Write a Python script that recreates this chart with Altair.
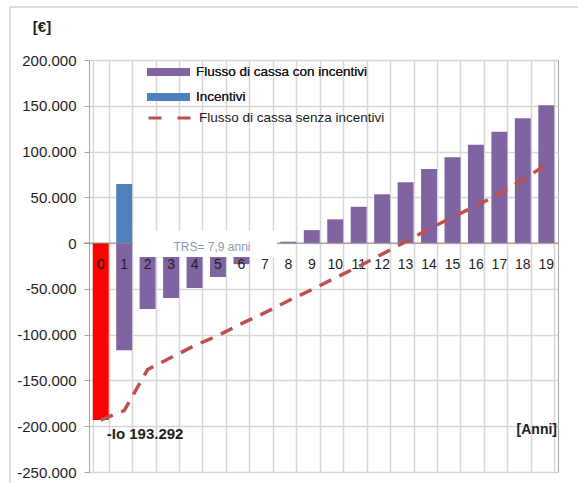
import altair as alt
import pandas as pd

# ---------------- data ----------------
anni = list(range(20))
investimento = -193292          # year 0 (red bar)
incentivi_anno = [1]
incentivi_val = [64500]
con_incentivi = [None, -117000, -72000, -60000, -49000, -37000, -23000, -11000,
                 1500, 14200, 26000, 39700, 53300, 66400, 81000, 93800,
                 107500, 121500, 136400, 150700]
senza_incentivi = [-193292, -183000, -138000, -125000, -112000, -101000, -88000,
                   -76000, -63000, -50800, -38000, -25500, -12000, 1500, 15600,
                   28200, 40800, 53800, 69000, 86000]
y_ticks = [-250000, -200000, -150000, -100000, -50000, 0, 50000, 100000, 150000, 200000]

S_CON = "Flusso di cassa con incentivi"
S_INC = "Incentivi"
S_SENZA = "Flusso di cassa senza incentivi"

PURPLE = "#8064A2"
BLUE = "#4F81BD"
RED = "#FF0000"
DASHRED = "#C0504D"
GRID = "#d6d6d6"
FONT = "Liberation Sans"

W, H = 469, 412

df_con = pd.DataFrame({"anno": anni, "valore": con_incentivi, "serie": S_CON}).dropna()
df_inc = pd.DataFrame({"anno": incentivi_anno, "valore": incentivi_val, "serie": S_INC})
df_io = pd.DataFrame({"anno": [0], "valore": [investimento]})
df_senza = pd.DataFrame({"anno": anni, "valore": senza_incentivi, "serie": S_SENZA})
df_lab = pd.DataFrame({"anno": anni, "valore": [0] * len(anni), "txt": [str(a) for a in anni]})

x_enc = alt.X(
    "anno:O",
    scale=alt.Scale(paddingInner=0.32, paddingOuter=0.16),
    axis=alt.Axis(labels=False, ticks=False, domain=False, grid=True, tickBand="extent",
                  gridColor=GRID, gridWidth=1.5, title=None),
)
y_enc = alt.Y(
    "valore:Q",
    scale=alt.Scale(domain=[-250000, 200000], nice=False),
    axis=alt.Axis(values=y_ticks, title=None, grid=True, gridColor=GRID, gridWidth=1.5,
                  domain=True, domainColor="#a6a6a6", tickColor="#a6a6a6", tickSize=5,
                  labelPadding=8, labelFont=FONT, labelFontSize=15, labelColor="#1e1e1e",
                  labelExpr="(datum.value < 0 ? '-' : '') + replace(format(abs(datum.value), ','), ',', '.')"),
)

fill_scale = alt.Scale(domain=[S_CON, S_INC], range=[PURPLE, BLUE])
fill_legend = alt.Legend(
    orient="none", legendX=58, legendY=2, title=None, padding=0,
    symbolType="M-1,-0.19L1,-0.19L1,0.19L-1,0.19Z", symbolSize=1849,
    symbolStrokeWidth=0, clipHeight=20, rowPadding=5, labelOffset=6, labelLimit=400,
    labelFont=FONT, labelFontSize=13.5, labelColor="#1a1a1a",
)

bars_con = alt.Chart(df_con).mark_bar().encode(
    x=x_enc, y=y_enc, fill=alt.Fill("serie:N", scale=fill_scale, legend=fill_legend)
)
bars_inc = alt.Chart(df_inc).mark_bar().encode(
    x="anno:O", y="valore:Q", fill=alt.Fill("serie:N", scale=fill_scale, legend=fill_legend)
)
bar_io = alt.Chart(df_io).mark_bar(color=RED).encode(x="anno:O", y="valore:Q")

zero_rule = alt.Chart(df_io).mark_rule(color="#8a8a8a", strokeWidth=1).encode(
    y=alt.datum(0), x=alt.value(-5), x2=alt.value(W)
)

box = alt.Chart(df_io).mark_rect(fill="white").encode(
    x=alt.value(44), x2=alt.value(188), y=alt.value(171), y2=alt.value(197)
)
trs = alt.Chart(df_io).mark_text(
    text="TRS=  7,9 anni", font=FONT, fontSize=12, color="#8c9bb0", align="center", baseline="middle"
).encode(x=alt.value(123), y=alt.value(187))

cat_labels = alt.Chart(df_lab).mark_text(
    font=FONT, fontSize=14, color="#1e1e1e", dy=22, baseline="middle"
).encode(x="anno:O", y="valore:Q", text="txt:N")

line = alt.Chart(df_senza).mark_line(strokeWidth=3.5, strokeDash=[13, 9]).encode(
    x="anno:O", y="valore:Q",
    stroke=alt.Stroke("serie:N", scale=alt.Scale(domain=[S_SENZA], range=[DASHRED]),
                      legend=alt.Legend(orient="none", legendX=58, legendY=48, title=None, padding=0,
                                        symbolType="stroke", symbolSize=1849, symbolStrokeWidth=3,
                                        symbolDash=[13, 16], clipHeight=20, labelOffset=6, labelLimit=400,
                                        labelFont=FONT, labelFontSize=13.5, labelColor="#1a1a1a")),
)

io_label = alt.Chart(df_io).mark_text(
    text="-Io 193.292", font=FONT, fontSize=15, fontWeight="bold", color="#1e1e1e",
    align="left", baseline="middle", dx=6, dy=14
).encode(x="anno:O", y="valore:Q")

anni_label = alt.Chart(df_io).mark_text(
    text="[Anni]", font=FONT, fontSize=14, fontWeight="bold", color="#1e1e1e",
    align="right", baseline="middle"
).encode(x=alt.value(W - 1), y=alt.value(370))

euro_label = alt.Chart(df_io).mark_text(
    text="[€]", font=FONT, fontSize=15, fontWeight="bold", color="#1e1e1e",
    align="center", baseline="middle"
).encode(x=alt.value(-47), y=alt.value(-33))

border_top = alt.Chart(df_io).mark_rule(color="#d0d0d0", strokeWidth=1.5).encode(
    x=alt.value(-79), x2=alt.value(W + 30), y=alt.value(-53)
)
border_left = alt.Chart(df_io).mark_rule(color="#d0d0d0", strokeWidth=1.5).encode(
    x=alt.value(-79), y=alt.value(-53), y2=alt.value(H + 20)
)

chart = alt.layer(
    bars_con, bars_inc, bar_io, zero_rule, box, trs, cat_labels, line,
    io_label, anni_label, euro_label, border_top, border_left
).resolve_scale(fill="independent", stroke="independent").properties(
    width=W, height=H,
    autosize=alt.AutoSizeParams(type="none"),
    padding={"left": 89, "top": 60, "right": 20, "bottom": 11},
    background="white",
).configure_view(stroke="#a6a6a6", strokeWidth=1)

chart.save("out.html", embed_options={"renderer": "svg", "actions": False})
